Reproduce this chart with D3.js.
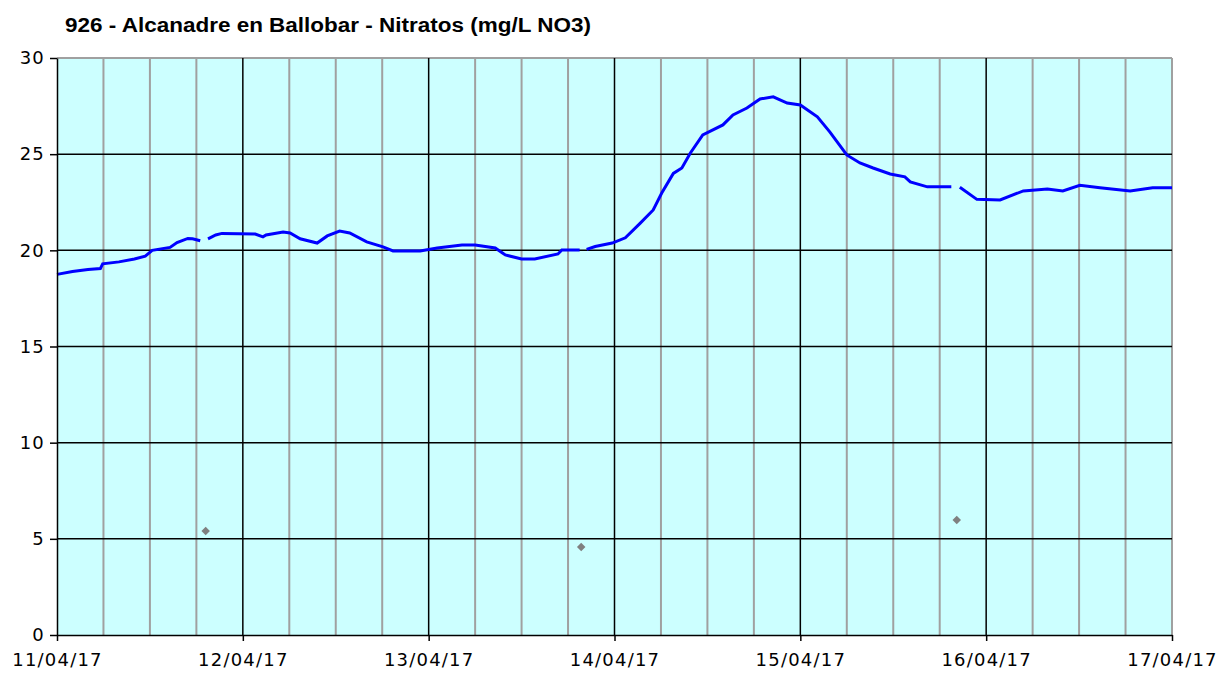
<!DOCTYPE html>
<meta charset="utf-8">
<script src="https://cdn.jsdelivr.net/npm/d3@7"></script>
<style type="text/css">
body { margin: 0; background: #fff; }
.title {
    font-family: "Liberation Sans", Arial, sans-serif;
    font-size: 20px;
    font-weight: bold;
    fill: #000;
}
.axis text {
    font-family: "DejaVu Sans", Verdana, sans-serif;
    font-size: 18px;
    letter-spacing: 1.2px;
    fill: #000;
}
.axis path, .axis line { stroke: #000; stroke-width: 1.5; }
.grid-minor { stroke: #a0a0a0; stroke-width: 2; }
.grid-major { stroke: #000; stroke-width: 1.5; }
.line {
    fill: none;
    stroke: #0000ff;
    stroke-width: 3;
}
.dot { fill: #808080; }
</style>
<body>
</body>
<script>
// hours since 11/04/17 00:00, NO3 in mg/L (null = no reading)
var hours = [0, 2, 4, 5.6, 5.9, 8, 10, 11.4, 12.3, 14.6, 15.5, 16.9, 17.5, 18.5, 19.0,
  19.5, 20.5, 21.3, 25.6, 26.6, 27, 29.2, 30.1, 31.4, 33.6, 34.9, 36.5, 37.8, 40,
  42.1, 43.4, 46.9, 49.1, 52.3, 54, 56.6, 57.9, 60, 61.7, 64.7, 65.2, 67.5, 68.0,
  68.4, 69.5, 71.7, 73.4, 75.3, 77, 78.1, 79.6, 80.7, 81.8, 83.4, 86, 87.3, 89.1,
  90.8, 92.5, 94.3, 96, 98.2, 99.8, 102, 103.7, 105.4, 107.6, 109.5, 110.2, 112.4,
  115.5, 116.0, 116.6, 118.8, 121.8, 124.8, 127.9, 129.9, 132.1, 134.7, 138.6, 141.5, 144];
var nitrate = [18.75, 18.9, 19.0, 19.05, 19.3, 19.4, 19.55, 19.7, 20.0, 20.15, 20.4, 20.62, 20.6, 20.5, null,
  20.6, 20.8, 20.88, 20.85, 20.7, 20.8, 20.95, 20.9, 20.6, 20.38, 20.75, 21.0, 20.9, 20.44,
  20.18, 19.97, 19.97, 20.12, 20.28, 20.28, 20.12, 19.76, 19.55, 19.55, 19.81, 20.02, 20.02, null,
  20.05, 20.2, 20.38, 20.65, 21.4, 22.1, 22.98, 24.0, 24.28, 25.06, 26.0, 26.52, 27.04, 27.4,
  27.87, 27.98, 27.66, 27.56, 26.94, 26.16, 24.96, 24.54, 24.28, 23.97, 23.82, 23.56, 23.3,
  23.3, null, 23.28, 22.65, 22.62, 23.09, 23.19, 23.09, 23.38, 23.25, 23.09, 23.25, 23.25];

// isolated lab samples (grey diamonds)
var sampleHours = [19.2, 67.7, 116.2];
var sampleValues = [5.41, 4.58, 5.98];

var yTicks = [0, 5, 10, 15, 20, 25, 30];
var titleText = "926 - Alcanadre en Ballobar - Nitratos (mg/L NO3)";

var start = new Date(2017, 3, 11);
var end = new Date(2017, 3, 17);
function toDate(h) { return new Date(start.getTime() + h * 3600 * 1000); }

var data = hours.map(function(h, i) { return {t: toDate(h), v: nitrate[i]}; });
var samples = sampleHours.map(function(h, i) { return {t: toDate(h), v: sampleValues[i]}; });

var margin = {top: 58, right: 60, bottom: 40, left: 57},
    W = 1232, H = 675,
    width = W - margin.left - margin.right,
    height = H - margin.top - margin.bottom;

var svg = d3.select("body").append("svg")
    .attr("width", W)
    .attr("height", H);

svg.append("text")
    .attr("class", "title")
    .attr("x", 65)
    .attr("y", 32)
    .attr("textLength", 526)
    .attr("lengthAdjust", "spacingAndGlyphs")
    .text(titleText);

var g = svg.append("g")
    .attr("transform", "translate(" + margin.left + "," + margin.top + ")");

var xScale = d3.scaleTime().domain([start, end]).range([0, width]);
var yScale = d3.scaleLinear().domain([0, 30]).range([height, 0]);

g.append("rect")
    .attr("width", width)
    .attr("height", height)
    .attr("fill", "#ccffff");

// 6-hour grid
var sixHours = d3.timeHour.every(6).range(start, end);
g.selectAll(".grid-minor")
    .data(sixHours.filter(function(d) { return d.getHours() != 0; }))
  .enter().append("line")
    .attr("class", "grid-minor")
    .attr("x1", function(d) { return xScale(d); })
    .attr("x2", function(d) { return xScale(d); })
    .attr("y1", 0)
    .attr("y2", height);

// right and top frame in grey
g.append("line").attr("class", "grid-minor")
    .attr("x1", width).attr("x2", width).attr("y1", 0).attr("y2", height);
g.append("line").attr("class", "grid-minor")
    .attr("x1", 0).attr("x2", width).attr("y1", 0).attr("y2", 0);

// day grid
g.selectAll(".grid-day")
    .data(d3.timeDay.range(d3.timeDay.offset(start, 1), end))
  .enter().append("line")
    .attr("class", "grid-major")
    .attr("x1", function(d) { return xScale(d); })
    .attr("x2", function(d) { return xScale(d); })
    .attr("y1", 0)
    .attr("y2", height);

g.selectAll(".grid-h")
    .data(yTicks.filter(function(d) { return d > 0 && d < 30; }))
  .enter().append("line")
    .attr("class", "grid-major")
    .attr("x1", 0)
    .attr("x2", width)
    .attr("y1", function(d) { return yScale(d); })
    .attr("y2", function(d) { return yScale(d); });

var line = d3.line()
    .defined(function(d) { return d.v != null; })
    .x(function(d) { return xScale(d.t); })
    .y(function(d) { return yScale(d.v); });

g.append("path")
    .datum(data)
    .attr("class", "line")
    .attr("d", line);

g.selectAll(".dot")
    .data(samples)
  .enter().append("path")
    .attr("class", "dot")
    .attr("d", d3.symbol().type(d3.symbolSquare).size(36))
    .attr("transform", function(d) { return "translate(" + xScale(d.t) + "," + yScale(d.v) + ") rotate(45)"; });

g.append("g")
    .attr("class", "axis")
    .call(d3.axisLeft(yScale).tickValues(yTicks).tickSize(7).tickPadding(5).tickSizeOuter(0));

g.append("g")
    .attr("class", "axis")
    .attr("transform", "translate(0," + height + ")")
    .call(d3.axisBottom(xScale)
      .tickValues(d3.timeDay.range(start, d3.timeDay.offset(end, 1)))
      .tickFormat(d3.timeFormat("%d/%m/%y"))
      .tickSize(6).tickPadding(12).tickSizeOuter(0));
</script>
